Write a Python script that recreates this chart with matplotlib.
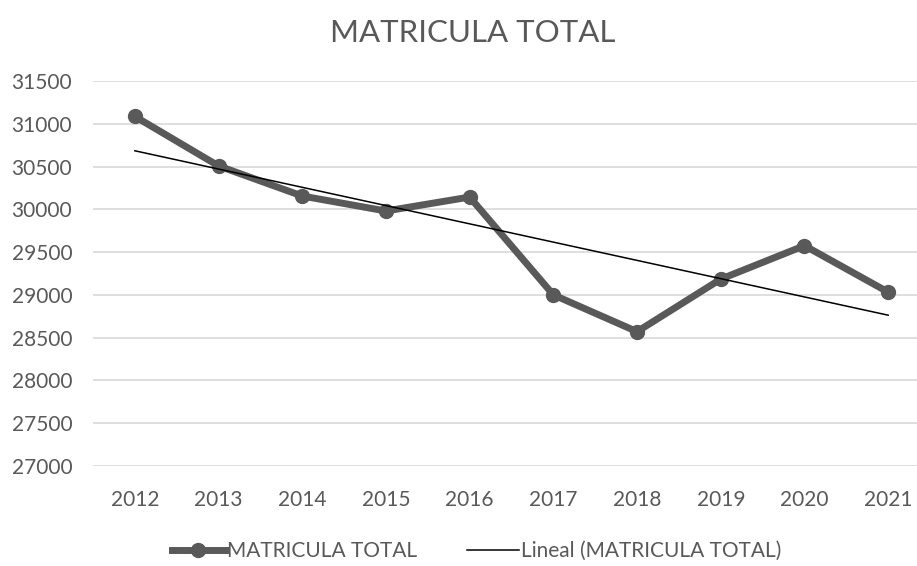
import matplotlib
matplotlib.use("Agg")
import matplotlib.pyplot as plt
import numpy as np

# datos
years = ["2012", "2013", "2014", "2015", "2016", "2017", "2018", "2019", "2020", "2021"]
matricula = [31085, 30507, 30155, 29980, 30143, 29000, 28570, 29184, 29575, 29032]
yticks = [27000, 27500, 28000, 28500, 29000, 29500, 30000, 30500, 31000, 31500]

plt.rcParams['font.family'] = ['Lato', 'DejaVu Sans']
gris = '#595959'

fig = plt.figure(figsize=(9.17, 5.66), dpi=100)
ax = fig.add_axes([0.1014, 0.1767, 0.9128, 0.6803])

x = np.arange(len(years))
ax.plot(x, matricula, color=gris, linewidth=5, marker='o', markersize=10,
        label='MATRICULA TOTAL', zorder=3)

# tendencia lineal (como la de Excel)
coef = np.polyfit(x, matricula, 1)
ax.plot(x, np.polyval(coef, x), color='black', linewidth=1.1,
        label='Lineal (MATRICULA TOTAL)', zorder=4)

ax.set_xlim(-0.5, len(years) - 0.5)
ax.set_ylim(27000, 31500)
ax.set_xticks(x)
ax.set_xticklabels(years)
ax.set_yticks(yticks)
ax.grid(axis='y', color='#d9d9d9', linewidth=1.2)
ax.set_axisbelow(True)
for s in ax.spines.values():
    s.set_visible(False)
ax.tick_params(length=0, labelsize=15, colors=gris, pad=17)
ax.tick_params(axis='y', pad=15)

fig.text(0.5155, 0.941, 'MATRICULA TOTAL', ha='center', va='center',
         fontsize=22.5, color=gris)

fig.legend(loc='center', bbox_to_anchor=(0.52, 0.026), ncol=2, frameon=False,
           fontsize=15, labelcolor=gris, handlelength=2.5, handletextpad=0.1,
           columnspacing=2.4)

fig.savefig('out.png', dpi=100)
